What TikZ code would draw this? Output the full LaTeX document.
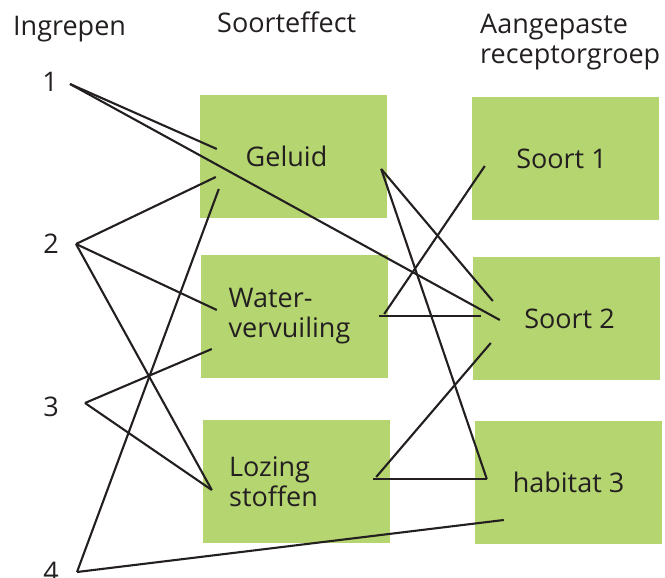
\documentclass[tikz,border=0pt]{standalone}
\usepackage{fontspec}
\setmainfont{Open Sans}
\usepackage{tikz}
\usetikzlibrary{positioning,calc}
\definecolor{effectgreen}{RGB}{181,213,112}
\definecolor{inkgrey}{RGB}{35,31,32}
\tikzstyle{block} = [
	fill=effectgreen,
	minimum width=187pt,
	minimum height=123pt,
	inner sep=0pt,
	align=left
]
\tikzstyle{heading} = [anchor=base west, inner sep=0pt, align=left]
\tikzstyle{ingreep} = [inner sep=0pt]
\tikzstyle{link} = [draw=inkgrey, line width=2.1pt]

\begin{document}
\begin{tikzpicture}[x=1pt, y=-1pt, node distance=160pt, text=inkgrey, font=\fontsize{27}{30}\selectfont]
	\useasboundingbox (0,0) rectangle (665,578);

	\node [heading] (ingrepen) at (13,36) {Ingrepen};
	\node [heading] (effect) at (217,33) {Soorteffect};
	\node [heading] (groep) at (480,64) {Aangepaste\\receptorgroep};

	\node [ingreep, name = n1] at (50,82) {1};
	\node [ingreep, name = n2] at (51,244) {2};
	\node [ingreep, name = n3] at (51,407) {3};
	\node [ingreep, name = n4] at (51,572) {4};

	\node [block, name = geluid] at (293.5,156.5) {Geluid\hspace*{14pt}};
	\node [block, name = water, below of = geluid, xshift = 1pt] {Water-\\vervuiling\hspace*{10pt}};
	\node [block, name = lozing, below of = water, node distance = 165pt, xshift = 2pt] {Lozing\\stoffen\hspace*{46pt}};
	\node [block, name = soort1, right of = geluid, node distance = 272pt, yshift = -2pt] {Soort 1\hspace*{8pt}};
	\node [block, name = soort2, below of = soort1, xshift = 1pt] {\hspace*{6pt}Soort 2};
	\node [block, name = habitat, below of = soort2, node distance = 164pt, xshift = 2pt] {habitat 3};

	\draw [link] ($(n1)+(20,2)$) -- ($(geluid.west)+(17,-7.5)$);
	\draw [link] ($(n1)+(20,2)$) -- ($(soort2.west)+(27,1.5)$);
	\draw [link] ($(n2)+(25,0)$) -- ($(geluid.west)+(16,20.5)$);
	\draw [link] ($(n2)+(25,0)$) -- ($(water.west)+(16,-6.5)$);
	\draw [link] ($(n2)+(25,0)$) -- ($(lozing.west)+(9,8.5)$);
	\draw [link] ($(n3)+(34,-4)$) -- ($(water.west)+(11,32.5)$);
	\draw [link] ($(n3)+(34,-4)$) -- ($(lozing.west)+(9,8.5)$);
	\draw [link] ($(n4)+(26,0)$) -- ($(geluid.west)+(19,32.5)$);
	\draw [link] ($(n4)+(26,0)$) -- ($(habitat.west)+(29,37.5)$);

	\draw [link] ($(geluid.east)+(-6,12.5)$) -- ($(soort2.west)+(20,-17.5)$);
	\draw [link] ($(geluid.east)+(-6,12.5)$) -- ($(habitat.west)+(12,-3.5)$);
	\draw [link] ($(water.east)+(-9,-0.5)$) -- ($(soort2.west)+(8,-2.5)$);
	\draw [link] ($(water.east)+(-4,-2.5)$) -- ($(soort1.west)+(13,7.5)$);
	\draw [link] ($(lozing.east)+(-17,-2.5)$) -- ($(habitat.west)+(12,-3.5)$);
	\draw [link] ($(lozing.east)+(-14,-4.5)$) -- ($(soort2.west)+(18,24.5)$);

\end{tikzpicture}
\end{document}
